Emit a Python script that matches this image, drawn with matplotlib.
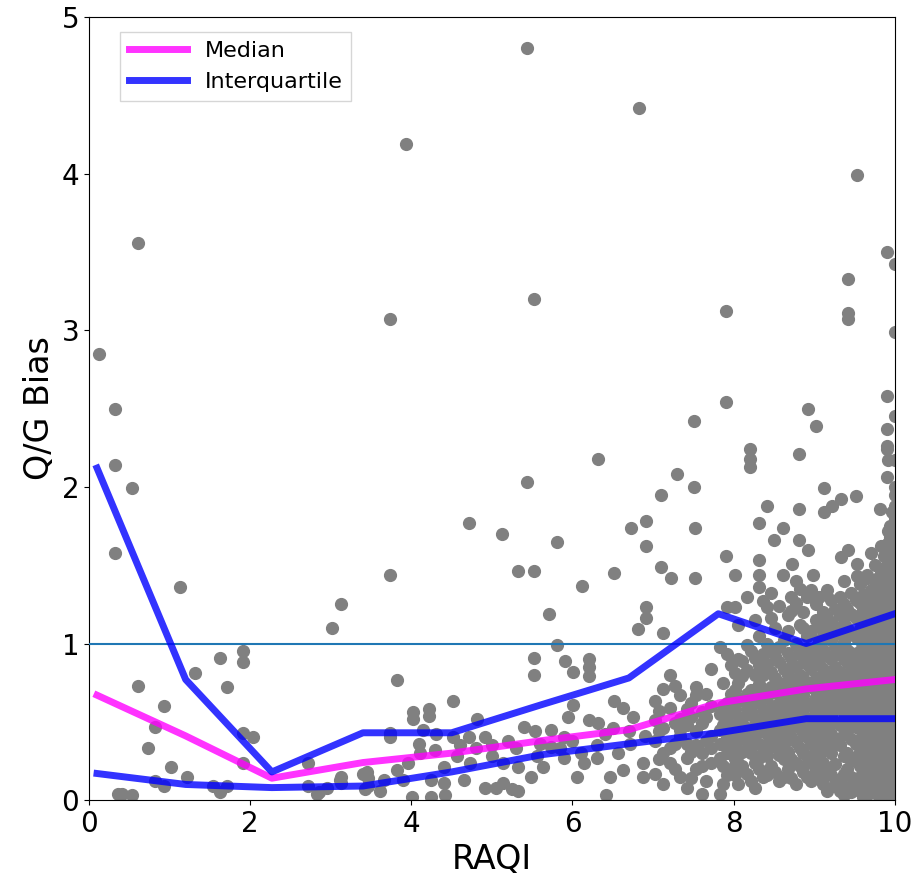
import numpy as np
import matplotlib
matplotlib.use('Agg')
import matplotlib.pyplot as plt

# binned statistics
bin_x = [0.1, 1.2, 2.27, 3.4, 4.5, 5.62, 6.7, 7.81, 8.9, 10.0]
median_y = [0.67, 0.41, 0.14, 0.24, 0.30, 0.38, 0.45, 0.62, 0.71, 0.77]
upper_q = [2.12, 0.77, 0.18, 0.43, 0.43, 0.61, 0.78, 1.19, 1.0, 1.19]
lower_q = [0.17, 0.10, 0.08, 0.09, 0.18, 0.29, 0.36, 0.43, 0.52, 0.52]

# sparse points (outliers, upper part)
high_x = [0.12, 0.32, 0.32, 0.53, 0.61, 0.32, 1.13, 3.13, 3.73, 3.93, 3.73, 4.71,
          5.12, 5.43, 5.43, 5.52, 5.32, 5.52, 5.81, 6.12, 6.32, 6.52, 6.73, 6.82,
          6.91, 6.91, 7.10, 7.10, 7.22, 7.30, 7.51, 7.51, 7.52, 7.52, 7.91, 7.91,
          7.91, 8.02, 8.20, 8.20, 8.20, 8.32, 8.32, 8.32, 8.41, 8.50, 8.61, 8.61,
          8.72, 8.81, 8.81, 8.81, 8.92, 8.92, 8.99, 9.02, 9.12, 9.12, 9.22, 9.33,
          9.33, 9.42, 9.42, 9.42, 9.42, 9.52, 9.53, 9.53, 9.53, 9.66, 9.82, 9.90,
          9.90, 9.90, 9.90, 9.90, 9.90, 9.91, 10.0, 10.0, 10.0, 10.0, 10.0, 10.0]
high_y = [2.85, 2.50, 2.14, 1.99, 3.56, 1.58, 1.36, 1.25, 3.07, 4.19, 1.44, 1.77,
          1.70, 2.03, 4.80, 3.20, 1.46, 1.46, 1.65, 1.37, 2.18, 1.45, 1.74, 4.42,
          1.78, 1.62, 1.95, 1.49, 1.42, 2.08, 2.00, 2.42, 1.74, 1.42, 3.12, 2.54,
          1.56, 1.44, 2.24, 2.18, 2.13, 1.77, 1.53, 1.44, 1.88, 1.66, 1.74, 1.44,
          1.51, 2.21, 1.86, 1.66, 2.50, 1.60, 1.44, 2.39, 1.99, 1.84, 1.88, 1.92,
          1.55, 3.33, 3.11, 3.07, 1.60, 1.94, 1.51, 1.43, 3.99, 1.42, 1.86, 3.50,
          2.58, 2.37, 2.26, 2.24, 2.06, 2.17, 3.42, 2.99, 2.45, 2.17, 2.00, 1.95]

# scattered points below ~1.3 for RAQI < 7
low_x = [3.02, 1.63, 1.91, 1.91, 1.32, 0.61, 1.71, 0.93, 0.82, 1.91, 2.04, 0.73,
         1.91, 1.02, 1.22, 0.82, 0.93, 0.41, 0.53, 1.54, 1.63, 1.71, 2.72, 2.72,
         2.83, 2.96, 3.13, 3.13, 3.40, 3.46, 3.46, 3.42, 3.82, 5.71, 6.91, 6.91,
         6.81, 5.81, 5.52, 5.52, 5.91, 6.01, 6.21, 6.21, 6.21, 4.52, 6.01, 4.02,
         4.22, 4.02, 4.22, 4.82, 6.20, 6.32, 6.51, 6.63, 6.75, 3.74, 3.74, 4.31,
         4.52, 4.72, 4.91, 5.40, 5.54, 5.73, 5.89, 5.94, 4.09, 4.11, 3.96, 3.45,
         3.12, 3.61, 4.01, 4.24, 4.42, 4.91, 5.14, 5.32, 6.41, 6.47, 6.06, 5.14,
         5.56, 5.73, 6.14, 4.57, 4.73, 4.40, 3.82, 3.90, 4.24, 4.40, 4.65, 5.48,
         5.32, 5.64, 5.89, 6.56, 6.72, 6.88, 6.88, 6.63, 3.66, 5.00, 5.20, 5.30,
         5.60, 5.85, 6.00, 6.30, 6.40, 6.50, 6.70, 6.90, 6.10, 6.30, 4.80, 5.00,
         4.30, 4.60, 2.85, 0.36, 5.05, 5.25, 4.15]
low_y = [1.10, 0.91, 0.95, 0.88, 0.81, 0.73, 0.72, 0.60, 0.47, 0.43, 0.40, 0.33,
         0.24, 0.21, 0.15, 0.12, 0.09, 0.04, 0.03, 0.09, 0.05, 0.09, 0.24, 0.09,
         0.04, 0.08, 0.15, 0.11, 0.17, 0.14, 0.09, 0.07, 0.77, 1.19, 1.23, 1.16,
         1.09, 0.99, 0.91, 0.80, 0.89, 0.82, 0.90, 0.85, 0.79, 0.63, 0.61, 0.56,
         0.58, 0.52, 0.54, 0.52, 0.51, 0.49, 0.63, 0.59, 0.53, 0.43, 0.40, 0.42,
         0.40, 0.40, 0.40, 0.47, 0.44, 0.45, 0.40, 0.53, 0.36, 0.30, 0.24, 0.18,
         0.13, 0.06, 0.02, 0.02, 0.03, 0.08, 0.11, 0.06, 0.03, 0.15, 0.15, 0.24,
         0.28, 0.34, 0.24, 0.28, 0.24, 0.21, 0.19, 0.13, 0.13, 0.11, 0.13, 0.15,
         0.21, 0.21, 0.27, 0.30, 0.36, 0.24, 0.15, 0.19, 0.13, 0.35, 0.38, 0.33,
         0.36, 0.33, 0.38, 0.35, 0.42, 0.46, 0.44, 0.41, 0.30, 0.27, 0.33, 0.28,
         0.32, 0.35, 0.05, 0.04, 0.08, 0.07, 0.45]

# dense cloud for RAQI >= 7, read column by column
dense_col_x = [7.02, 7.12, 7.21, 7.33, 7.42, 7.53, 7.61, 7.72, 7.83, 7.92, 8.02,
               8.11, 8.22, 8.31, 8.42, 8.51, 8.62, 8.71, 8.82, 8.91, 9.02, 9.11,
               9.21, 9.32, 9.41, 9.52, 9.61, 9.70, 9.79, 9.87, 9.94, 10.0]
dense_col_y = [
    [0.17, 0.38, 0.51, 0.63],
    [0.10, 0.30, 0.46, 0.71, 1.07],
    [0.24, 0.33, 0.59, 0.80],
    [0.15, 0.41, 0.52, 0.67, 0.45],
    [0.08, 0.27, 0.48, 0.58, 0.36],
    [0.20, 0.35, 0.67, 0.72, 0.44],
    [0.04, 0.30, 0.49, 0.56, 0.22],
    [0.24, 0.41, 0.60, 0.84, 0.33],
    [0.04, 0.36, 0.45, 0.55, 0.98, 0.27],
    [0.30, 0.50, 0.62, 0.93, 1.23, 0.16, 0.40],
    [0.16, 0.35, 0.47, 0.58, 0.70, 0.81, 1.23, 0.26],
    [0.22, 0.40, 0.52, 0.64, 0.79, 0.89, 0.31],
    [0.12, 0.30, 0.44, 0.56, 0.70, 0.95, 0.37, 0.63],
    [0.20, 0.36, 0.48, 0.62, 0.74, 0.86, 1.36, 0.27, 1.05],
    [0.28, 0.42, 0.53, 0.66, 0.87, 1.00, 1.23, 0.35, 0.16],
    [0.18, 0.34, 0.46, 0.53, 0.60, 0.78, 0.92, 1.10, 0.70],
    [0.26, 0.36, 0.50, 0.62, 0.72, 0.84, 1.02, 0.15, 0.44],
    [0.14, 0.26, 0.40, 0.55, 0.66, 0.85, 0.91, 1.21, 1.30, 0.76, 0.47],
    [0.22, 0.33, 0.46, 0.58, 0.70, 0.80, 0.95, 1.12, 1.35, 0.64],
    [0.15, 0.28, 0.40, 0.52, 0.62, 0.74, 0.87, 1.05, 1.30, 0.46, 0.96],
    [0.19, 0.32, 0.45, 0.56, 0.66, 0.78, 0.90, 0.98, 1.15, 1.25, 0.38, 0.70],
    [0.10, 0.24, 0.38, 0.50, 0.60, 0.72, 0.84, 0.96, 1.08, 1.20, 0.44, 0.65],
    [0.16, 0.30, 0.42, 0.54, 0.66, 0.78, 0.90, 1.02, 1.14, 1.28, 0.60, 0.36],
    [0.13, 0.06, 0.35, 0.48, 0.58, 0.70, 0.82, 0.94, 1.06, 1.18, 1.30, 0.64, 0.76],
    [0.08, 0.20, 0.30, 0.44, 0.55, 0.64, 0.76, 0.88, 0.96, 1.10, 1.22, 0.50, 0.70],
    [0.12, 0.26, 0.36, 0.47, 0.58, 0.68, 0.80, 0.92, 1.04, 1.16, 1.28, 0.54, 0.74, 0.86],
    [0.02, 0.10, 0.18, 0.27, 0.33, 0.43, 0.50, 0.57, 0.66, 0.75, 0.81, 0.90, 0.99,
     1.05, 1.13, 1.22, 1.31],
    [0.06, 0.14, 0.21, 0.30, 0.38, 0.47, 0.53, 0.62, 0.70, 0.79, 0.86, 0.94, 1.03,
     1.10, 1.18, 1.27, 1.34, 1.58],
    [0.03, 0.10, 0.19, 0.25, 0.34, 0.42, 0.51, 0.58, 0.66, 0.73, 0.82, 0.91, 0.97,
     1.06, 1.15, 1.21, 1.29, 1.34, 1.42],
    [0.05, 0.12, 0.20, 0.28, 0.36, 0.44, 0.52, 0.60, 0.68, 0.76, 0.84, 0.92, 1.00,
     1.08, 1.16, 1.24, 1.32, 1.40, 1.48, 1.56],
    [0.02, 0.09, 0.17, 0.24, 0.33, 0.40, 0.49, 0.56, 0.64, 0.72, 0.80, 0.88, 0.96,
     1.04, 1.12, 1.20, 1.28, 1.36, 1.44, 1.52, 1.60, 1.68, 1.75],
    [0.04, 0.11, 0.19, 0.27, 0.35, 0.43, 0.51, 0.59, 0.67, 0.75, 0.83, 0.91, 0.99,
     1.07, 1.15, 1.23, 1.31, 1.39, 1.47, 1.55, 1.63, 1.71, 1.80, 1.88],
]

# second pass of columns in between the first ones
fill_col_x = [7.07, 7.27, 7.47, 7.66, 7.87, 7.97, 8.06, 8.16, 8.27, 8.36, 8.46,
              8.56, 8.67, 8.77, 8.86, 8.96, 9.06, 9.16, 9.26, 9.37, 9.46, 9.57,
              9.66, 9.75, 9.83, 9.91, 9.97]
fill_col_y = [
    [0.26, 0.44, 0.57],
    [0.20, 0.36, 0.49, 0.73],
    [0.14, 0.31, 0.53, 0.62],
    [0.12, 0.38, 0.53, 0.68],
    [0.10, 0.22, 0.48, 0.60, 0.75],
    [0.20, 0.34, 0.44, 0.56, 0.68, 0.86],
    [0.10, 0.29, 0.41, 0.53, 0.64, 0.75, 0.90, 1.12],
    [0.17, 0.34, 0.46, 0.58, 0.68, 0.83, 0.99, 1.30],
    [0.08, 0.24, 0.41, 0.52, 0.67, 0.80, 0.91, 1.15],
    [0.15, 0.31, 0.44, 0.57, 0.69, 0.80, 0.93, 1.27],
    [0.22, 0.38, 0.48, 0.60, 0.72, 0.82, 0.96, 1.16, 1.32],
    [0.12, 0.29, 0.41, 0.56, 0.67, 0.75, 0.88, 0.98, 1.24],
    [0.20, 0.31, 0.45, 0.58, 0.69, 0.80, 0.94, 1.08, 1.18],
    [0.10, 0.24, 0.37, 0.51, 0.61, 0.74, 0.85, 1.00, 1.26, 1.40],
    [0.18, 0.30, 0.43, 0.55, 0.67, 0.78, 0.91, 1.10, 1.20],
    [0.12, 0.24, 0.36, 0.50, 0.60, 0.72, 0.84, 0.94, 1.08, 1.34],
    [0.15, 0.28, 0.41, 0.53, 0.63, 0.75, 0.87, 1.02, 1.12, 1.30],
    [0.06, 0.20, 0.33, 0.46, 0.56, 0.68, 0.80, 0.92, 1.04, 1.16, 1.34],
    [0.10, 0.23, 0.38, 0.50, 0.62, 0.73, 0.85, 0.97, 1.09, 1.22],
    [0.03, 0.17, 0.28, 0.42, 0.52, 0.67, 0.79, 0.90, 1.01, 1.13, 1.25, 1.40],
    [0.05, 0.15, 0.25, 0.39, 0.50, 0.61, 0.72, 0.83, 0.94, 1.06, 1.19, 1.32],
    [0.06, 0.15, 0.22, 0.31, 0.39, 0.46, 0.54, 0.62, 0.70, 0.79, 0.86, 0.95, 1.02,
     1.09, 1.18, 1.26, 1.38],
    [0.03, 0.10, 0.18, 0.26, 0.34, 0.42, 0.50, 0.58, 0.66, 0.74, 0.82, 0.90, 0.98,
     1.06, 1.14, 1.22, 1.30, 1.44],
    [0.07, 0.15, 0.23, 0.31, 0.39, 0.47, 0.55, 0.63, 0.71, 0.79, 0.87, 0.95, 1.03,
     1.11, 1.19, 1.27, 1.36, 1.50],
    [0.01, 0.08, 0.16, 0.24, 0.32, 0.40, 0.48, 0.56, 0.64, 0.72, 0.80, 0.88, 0.96,
     1.04, 1.12, 1.20, 1.28, 1.37, 1.46, 1.62],
    [0.01, 0.08, 0.16, 0.24, 0.32, 0.40, 0.48, 0.56, 0.64, 0.72, 0.80, 0.88, 0.96,
     1.04, 1.12, 1.20, 1.28, 1.36, 1.44, 1.52, 1.64, 1.72],
    [0.07, 0.15, 0.23, 0.31, 0.39, 0.47, 0.55, 0.63, 0.71, 0.79, 0.87, 0.95, 1.03,
     1.11, 1.19, 1.27, 1.35, 1.43, 1.51, 1.59, 1.67, 1.75, 1.84],
]

dense_x = []
dense_y = []
for cx, ys in zip(dense_col_x + fill_col_x, dense_col_y + fill_col_y):
    dense_x.extend([cx] * len(ys))
    dense_y.extend(ys)

all_x = np.array(high_x + low_x + dense_x)
all_y = np.array(high_y + low_y + dense_y)

fig = plt.figure(figsize=(9.22, 8.94), dpi=100)
ax = fig.add_axes([0.0965, 0.105, 0.874, 0.876])

ax.scatter(all_x, all_y, s=72, color='#808080', zorder=2)
ax.axhline(1.0, color='#1f77b4', lw=1.5, zorder=3)
ax.plot(bin_x, median_y, color='magenta', lw=5, alpha=0.8, label='Median', zorder=4)
ax.plot(bin_x, upper_q, color='blue', lw=5, alpha=0.8, label='Interquartile', zorder=4)
ax.plot(bin_x, lower_q, color='blue', lw=5, alpha=0.8, zorder=4)

ax.set_xlim(0, 10)
ax.set_ylim(0, 5)
ax.set_xticks([0, 2, 4, 6, 8, 10])
ax.set_yticks([0, 1, 2, 3, 4, 5])
ax.tick_params(labelsize=20)
ax.set_xlabel('RAQI', fontsize=24)
ax.set_ylabel('Q/G Bias', fontsize=24)

ax.legend(loc='upper left', bbox_to_anchor=(0.025, 0.995), fontsize=16,
          handlelength=2.6, frameon=True, fancybox=False)

fig.savefig('out.png', dpi=100)
